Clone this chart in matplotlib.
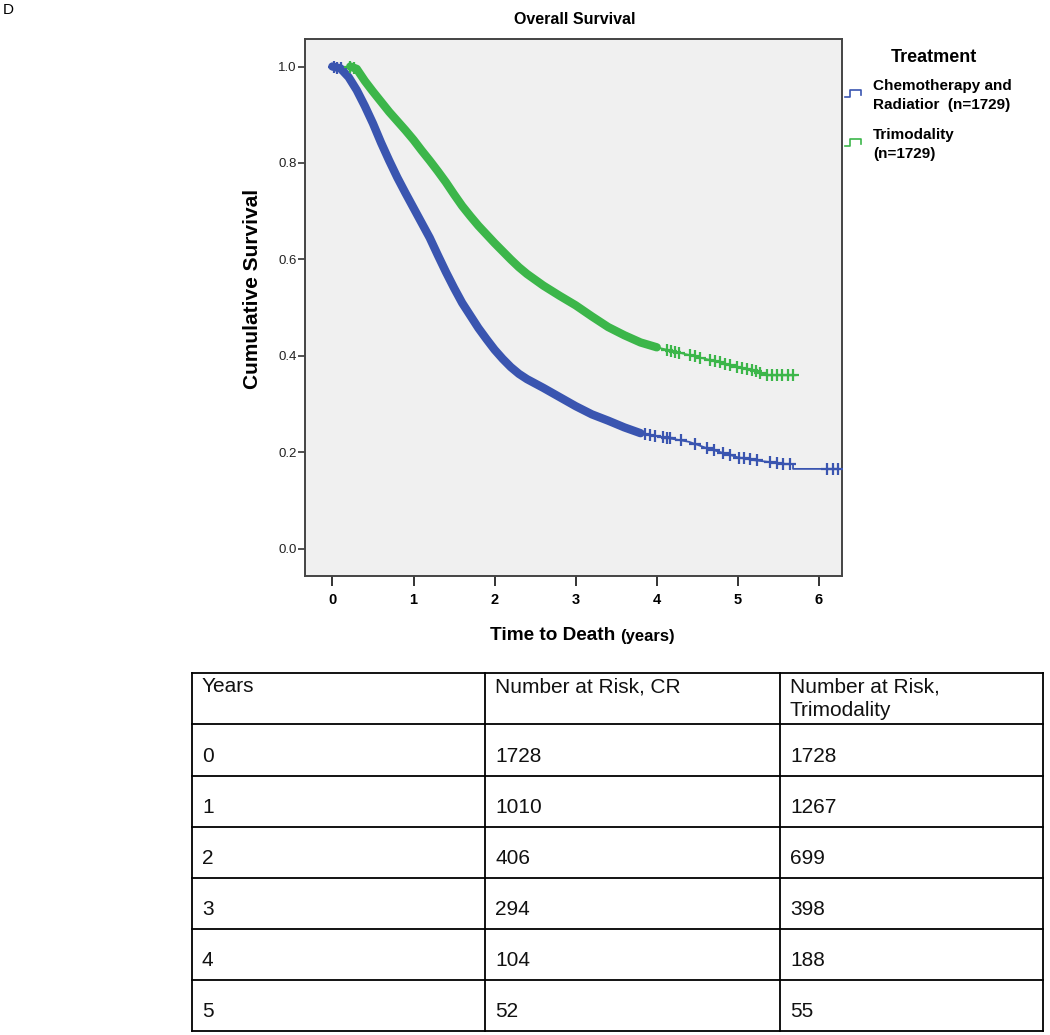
import numpy as np
import matplotlib
matplotlib.use("Agg")
import matplotlib.pyplot as plt

plt.rcParams['font.family'] = ['Liberation Sans', 'DejaVu Sans']

# ---------------- data ----------------
cr_time = [0.00, 0.10, 0.20, 0.30, 0.40, 0.50, 0.60, 0.70, 0.80, 0.90, 1.00, 1.10, 1.20,
           1.30, 1.40, 1.50, 1.60, 1.70, 1.80, 1.90, 2.00, 2.10, 2.20, 2.30, 2.40, 2.60,
           2.80, 3.00, 3.20, 3.40, 3.60, 3.80, 4.00, 4.20, 4.40, 4.60, 4.80, 5.00, 5.20,
           5.40, 5.60, 5.68, 5.68, 6.30]
cr_surv = [1.000, 0.996, 0.978, 0.951, 0.918, 0.882, 0.842, 0.805, 0.770, 0.738, 0.707, 0.676,
           0.645, 0.609, 0.574, 0.541, 0.510, 0.484, 0.458, 0.435, 0.413, 0.394, 0.377, 0.363,
           0.352, 0.334, 0.315, 0.296, 0.279, 0.266, 0.252, 0.240, 0.234, 0.228, 0.222, 0.210,
           0.200, 0.190, 0.184, 0.180, 0.176, 0.176, 0.166, 0.166]

tri_time = [0.22, 0.30, 0.40, 0.50, 0.60, 0.70, 0.80, 0.90, 1.00, 1.10, 1.20, 1.30, 1.40, 1.50,
            1.60, 1.70, 1.80, 1.90, 2.00, 2.10, 2.20, 2.30, 2.40, 2.60, 2.80, 3.00, 3.20, 3.40,
            3.60, 3.80, 4.00, 4.20, 4.40, 4.60, 4.80, 5.00, 5.20, 5.35, 5.71]
tri_surv = [1.000, 0.995, 0.970, 0.948, 0.927, 0.906, 0.887, 0.868, 0.848, 0.826, 0.805, 0.783,
            0.760, 0.735, 0.711, 0.690, 0.670, 0.652, 0.634, 0.617, 0.600, 0.584, 0.570, 0.546,
            0.525, 0.505, 0.482, 0.460, 0.443, 0.428, 0.418, 0.410, 0.402, 0.394, 0.386, 0.377,
            0.370, 0.360, 0.360]

cr_censor = [0.02, 0.06, 0.10, 3.85, 3.92, 3.98, 4.08, 4.12, 4.16, 4.30, 4.47, 4.62, 4.70,
             4.82, 4.90, 5.02, 5.08, 5.15, 5.23, 5.40, 5.48, 5.56, 5.64, 6.10, 6.17, 6.24]
tri_censor = [0.22, 0.27, 4.12, 4.18, 4.23, 4.28, 4.41, 4.47, 4.53, 4.66, 4.72, 4.78, 4.84, 4.90,
              4.99, 5.05, 5.11, 5.17, 5.22, 5.27, 5.36, 5.42, 5.48, 5.55, 5.62, 5.68]

series_labels = ["Chemotherapy and\nRadiatior  (n=1729)", "Trimodality\n(n=1729)"]
x_ticks = [0, 1, 2, 3, 4, 5, 6]
y_ticks = [0.0, 0.2, 0.4, 0.6, 0.8, 1.0]

table_header = ["Years", "Number at Risk, CR", "Number at Risk,\nTrimodality"]
table_years = [0, 1, 2, 3, 4, 5]
risk_cr = [1728, 1010, 406, 294, 104, 52]
risk_tri = [1728, 1267, 699, 398, 188, 55]

# ---------------- figure ----------------
W, H = 1050, 1035
fig = plt.figure(figsize=(W / 100, H / 100), dpi=100)

def px_rect(l, t, r, b):
    return [l / W, 1 - b / H, (r - l) / W, (b - t) / H]

ax = fig.add_axes(px_rect(305, 39, 842, 576))
ax.set_facecolor('#f0f0f0')
ax.set_xlim(-0.338, 6.284)
ax.set_ylim(-0.056, 1.057)

blue = '#3a55b0'
green = '#3cb64a'

def draw_curve(t, s, cens, cutoff, color):
    t = np.asarray(t); s = np.asarray(s)
    dense = t <= cutoff
    tail = t >= cutoff
    ax.plot(t[dense], s[dense], color=color, lw=6, solid_capstyle='round',
            solid_joinstyle='round', zorder=3)
    ax.plot(t[tail], s[tail], color=color, lw=1.3, zorder=3)
    cy = np.interp(cens, t, s)
    ax.plot(cens, cy, linestyle='none', marker='+', ms=8.5, mew=1.6,
            color=color, zorder=4)

draw_curve(cr_time, cr_surv, cr_censor, 3.80, blue)
draw_curve(tri_time, tri_surv, tri_censor, 4.00, green)

ax.set_xticks(x_ticks)
ax.set_xticklabels([str(v) for v in x_ticks], fontweight='bold', fontsize=10.5)
ax.set_yticks(y_ticks)
ax.set_yticklabels([f"{v:.1f}" for v in y_ticks], fontsize=9.5, color='#222222')
ax.tick_params(axis='x', length=7, width=1.4, color='#333333', pad=5)
ax.tick_params(axis='y', length=5, width=1.2, color='#333333', pad=1)
for sp in ax.spines.values():
    sp.set_color('#444444')
    sp.set_linewidth(1.4)

fig.text(575 / W, 1 - 20 / H, "Overall Survival", ha='center', va='center',
         fontsize=11.5, fontweight='bold')
fig.text(252 / W, 1 - 289 / H, "Cumulative Survival", ha='center', va='center',
         rotation=90, fontsize=15, fontweight='bold')
fig.text(615 / W, 1 - 636 / H, "Time to Death", ha='right', va='center',
         fontsize=13.7, fontweight='bold')
fig.text(620 / W, 1 - 636 / H, "(years)", ha='left', va='center',
         fontsize=12, fontweight='bold')
fig.text(3 / W, 1 - 10 / H, "D", ha='left', va='center', fontsize=11)

# ---------------- overlay (legend + table) in pixel coords ----------------
ov = fig.add_axes([0, 0, 1, 1], facecolor='none')
ov.set_xlim(0, W)
ov.set_ylim(H, 0)
ov.axis('off')

ov.text(934, 57, "Treatment", ha='center', va='center', fontsize=13, fontweight='bold')
leg_colors = [blue, green]
leg_y = [86, 135]
for lab, col, y in zip(series_labels, leg_colors, leg_y):
    ov.plot([845, 850, 850, 861, 861], [y + 11, y + 11, y + 4, y + 4, y + 9],
            color=col, lw=1.2)
    lines = lab.split("\n")
    ov.text(873, y, lines[0], ha='left', va='center', fontsize=11, fontweight='bold')
    ov.text(873, y + 19, lines[1], ha='left', va='center', fontsize=11, fontweight='bold')

# table
col_x = [192, 485, 780, 1043]
row_y = [673, 724, 776, 827, 878, 929, 980, 1031]
for x in col_x:
    ov.plot([x, x], [row_y[0], row_y[-1]], color='black', lw=1.3)
for y in row_y:
    ov.plot([col_x[0], col_x[-1]], [y, y], color='black', lw=1.3)

tfs = 15
for j, h in enumerate(table_header):
    for k, ln in enumerate(h.split("\n")):
        ov.text(col_x[j] + 10, 687 + 24 * k, ln, ha='left', va='center', fontsize=tfs,
                color='#111111')
for i, (yr, a, b) in enumerate(zip(table_years, risk_cr, risk_tri)):
    yc = (row_y[i + 1] + row_y[i + 2]) / 2 + 6
    for j, v in enumerate([yr, a, b]):
        ov.text(col_x[j] + 10, yc, str(v), ha='left', va='center', fontsize=tfs,
                color='#111111')

fig.savefig("out.png", dpi=100)
